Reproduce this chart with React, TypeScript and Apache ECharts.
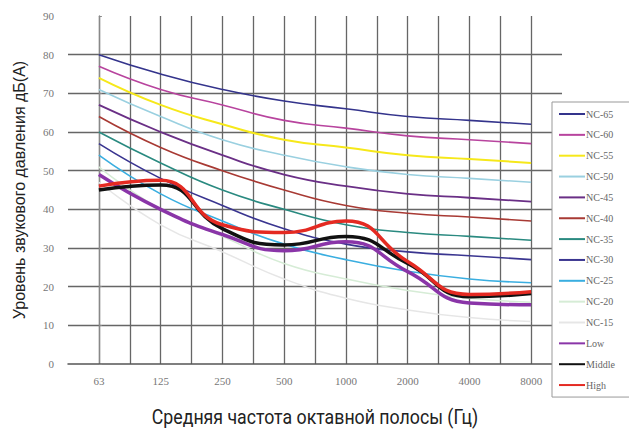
import React, { useEffect, useRef } from "react";
import * as echarts from "echarts";

const categories = ["63", "125", "250", "500", "1000", "2000", "4000", "8000"];
const yTicks = [0, 10, 20, 30, 40, 50, 60, 70, 80, 90];
const xTitle = "Средняя частота октавной полосы (Гц)";
const yTitle = "Уровень звукового давления дБ(А)";

const nc65 = [80, 75, 71, 68, 66, 64, 63, 62];
const nc60 = [77, 71, 67, 63, 61, 59, 58, 57];
const nc55 = [74, 67, 62, 58, 56, 54, 53, 52];
const nc50 = [71, 64, 58, 54, 51, 49, 48, 47];
const nc45 = [67, 60, 54, 49, 46, 44, 43, 42];
const nc40 = [64, 56, 50, 45, 41, 39, 38, 37];
const nc35 = [60, 52, 45, 40, 36, 34, 33, 32];
const nc30 = [57, 48, 41, 35, 31, 29, 28, 27];
const nc25 = [54, 44, 37, 31, 27, 24, 22, 21];
const nc20 = [51, 40, 33, 26, 22, 19, 17, 16];
const nc15 = [47, 36, 29, 22, 17, 14, 12, 11];
const low = [49, 40, 33.5, 29.3, 31.6, 23.9, 15.8, 15.3];
const middle = [45, 46.3, 35, 30.8, 33, 26, 17.4, 18.2];
const high = [46, 47.5, 36, 34, 37, 26.5, 18, 18.7];

const seriesDefs = [
  { name: "NC-65", data: nc65, color: "#34348c", width: 1.6 },
  { name: "NC-60", data: nc60, color: "#b8449e", width: 1.6 },
  { name: "NC-55", data: nc55, color: "#f6e81a", width: 2 },
  { name: "NC-50", data: nc50, color: "#9ad0e0", width: 1.6 },
  { name: "NC-45", data: nc45, color: "#6a2f86", width: 1.8 },
  { name: "NC-40", data: nc40, color: "#a83a34", width: 1.6 },
  { name: "NC-35", data: nc35, color: "#2a8a80", width: 1.6 },
  { name: "NC-30", data: nc30, color: "#3a3590", width: 1.6 },
  { name: "NC-25", data: nc25, color: "#3aaee0", width: 1.6 },
  { name: "NC-20", data: nc20, color: "#d6ecd6", width: 1.5 },
  { name: "NC-15", data: nc15, color: "#e6e6e6", width: 1.5 },
  { name: "Low", data: low, color: "#8a35a8", width: 3.5 },
  { name: "Middle", data: middle, color: "#111111", width: 3.5 },
  { name: "High", data: high, color: "#e42a22", width: 3.5 },
];

export default function App() {
  const ref = useRef<HTMLDivElement>(null);
  useEffect(() => {
    if (!ref.current) return;
    const chart = echarts.init(ref.current, undefined, { renderer: "svg" });
    const serif = "'Liberation Serif', 'DejaVu Serif', serif";
    const sans = "'Liberation Sans', Roboto, sans-serif";
    chart.setOption({
      animation: false,
      backgroundColor: "#ffffff",
      grid: { left: 68, right: 67, top: 16, bottom: 66, containLabel: false },
      graphic: [
        {
          type: "text",
          x: 315,
          y: 418,
          scaleX: 0.91,
          style: {
            text: xTitle,
            fontFamily: "Roboto, sans-serif",
            fontSize: 19.5,
            fill: "#222",
            align: "center",
            verticalAlign: "middle",
          },
        },
      ],
      xAxis: {
        type: "value",
        min: -0.5,
        max: 7.5,
        interval: 0.5,
        axisLine: { show: true, lineStyle: { color: "#555", width: 1.5 } },
        axisTick: { show: false },
        axisLabel: {
          fontFamily: serif,
          fontSize: 11,
          color: "#777",
          margin: 11,
          formatter: (v: number) =>
            Number.isInteger(v) && v >= 0 && v < categories.length ? categories[v] : "",
        },
        splitLine: {
          show: true,
          showMinLine: false,
          showMaxLine: false,
          lineStyle: { color: "#666", width: 1.3 },
        },
      },
      yAxis: {
        type: "value",
        min: yTicks[0],
        max: yTicks[yTicks.length - 1],
        interval: 10,
        name: yTitle,
        nameLocation: "middle",
        nameGap: 41,
        nameTextStyle: { fontFamily: sans, fontSize: 16, color: "#222" },
        axisLine: { show: true, lineStyle: { color: "#888", width: 1.3 } },
        axisTick: { show: true, inside: true, length: 3, lineStyle: { color: "#888" } },
        axisLabel: { fontFamily: serif, fontSize: 11, color: "#777", margin: 14 },
        splitLine: {
          show: true,
          showMinLine: false,
          showMaxLine: false,
          lineStyle: { color: "#666", width: 1.3 },
        },
      },
      legend: {
        orient: "vertical",
        left: 552,
        top: 102,
        padding: [7, 40, 7, 6],
        itemWidth: 26,
        itemHeight: 10,
        itemGap: 10.85,
        borderColor: "#999",
        borderWidth: 1,
        backgroundColor: "#fff",
        itemStyle: { opacity: 0 },
        textStyle: { fontFamily: serif, fontSize: 10, color: "#666", padding: [0, 0, 0, -4] },
        data: seriesDefs.map((s) => s.name),
      },
      series: seriesDefs.map((s) => ({
        name: s.name,
        type: "line",
        smooth: true,
        symbol: "none",
        data: s.data.map((v, i) => [i, v]),
        lineStyle: { color: s.color, width: s.width },
        itemStyle: { color: s.color },
      })),
    });
    return () => chart.dispose();
  }, []);
  return (
    <div
      ref={ref}
      style={{ position: "fixed", left: 0, top: 0, width: 629, height: 430 }}
    />
  );
}
